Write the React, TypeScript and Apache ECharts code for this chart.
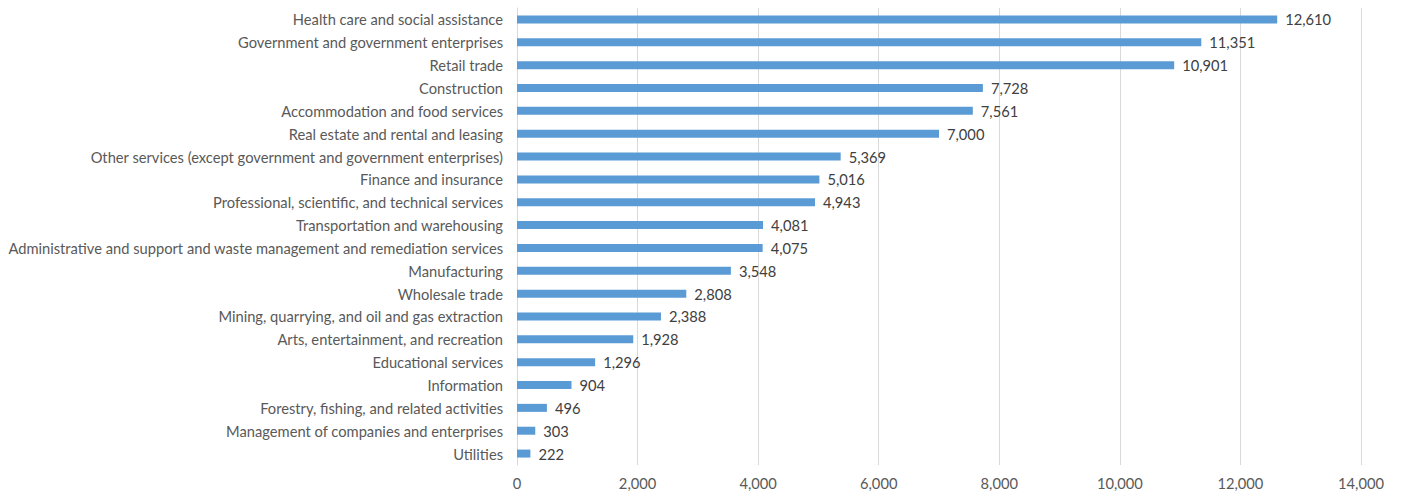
import React, { useEffect, useRef } from "react";
import * as echarts from "echarts";

const categories = [
  "Health care and social assistance",
  "Government and government enterprises",
  "Retail trade",
  "Construction",
  "Accommodation and food services",
  "Real estate and rental and leasing",
  "Other services (except government and government enterprises)",
  "Finance and insurance",
  "Professional, scientific, and technical services",
  "Transportation and warehousing",
  "Administrative and support and waste management and remediation services",
  "Manufacturing",
  "Wholesale trade",
  "Mining, quarrying, and oil and gas extraction",
  "Arts, entertainment, and recreation",
  "Educational services",
  "Information",
  "Forestry, fishing, and related activities",
  "Management of companies and enterprises",
  "Utilities",
];

const values = [
  12610, 11351, 10901, 7728, 7561, 7000, 5369, 5016, 4943, 4081, 4075, 3548,
  2808, 2388, 1928, 1296, 904, 496, 303, 222,
];

const FONT = "Lato, sans-serif";
const FS = 14.7;

export default function App() {
  const ref = useRef<HTMLDivElement>(null);
  useEffect(() => {
    document.body.style.margin = "0";
    if (!ref.current) return;
    const chart = echarts.init(ref.current, undefined, { renderer: "svg" });
    chart.setOption({
      animation: false,
      textStyle: { fontFamily: FONT },
      grid: {
        left: 517,
        right: 41,
        top: 8,
        bottom: 28,
        containLabel: false,
        outerBoundsMode: "none",
      },
      xAxis: {
        type: "value",
        min: 0,
        max: 14000,
        interval: 2000,
        axisLine: { show: false },
        axisTick: { show: false },
        splitLine: { lineStyle: { color: "#d9d9d9", width: 1 } },
        axisLabel: {
          color: "#595959",
          fontSize: FS,
          fontFamily: FONT,
          margin: 10,
          formatter: (v: number) => v.toLocaleString("en-US"),
        },
      },
      yAxis: {
        type: "category",
        data: categories,
        inverse: true,
        axisLine: { show: true, lineStyle: { color: "#d9d9d9" } },
        axisTick: { show: false },
        axisLabel: {
          color: "#595959",
          fontSize: FS,
          fontFamily: FONT,
          margin: 14,
        },
      },
      series: [
        {
          type: "bar",
          data: values,
          barWidth: 8,
          itemStyle: { color: "#5B9BD5" },
          label: {
            show: true,
            position: "right",
            distance: 8,
            color: "#404040",
            fontSize: FS,
            fontFamily: FONT,
            formatter: (p: any) => Number(p.value).toLocaleString("en-US"),
          },
        },
      ],
    });
    return () => chart.dispose();
  }, []);
  return <div ref={ref} style={{ width: 1402, height: 493 }} />;
}
